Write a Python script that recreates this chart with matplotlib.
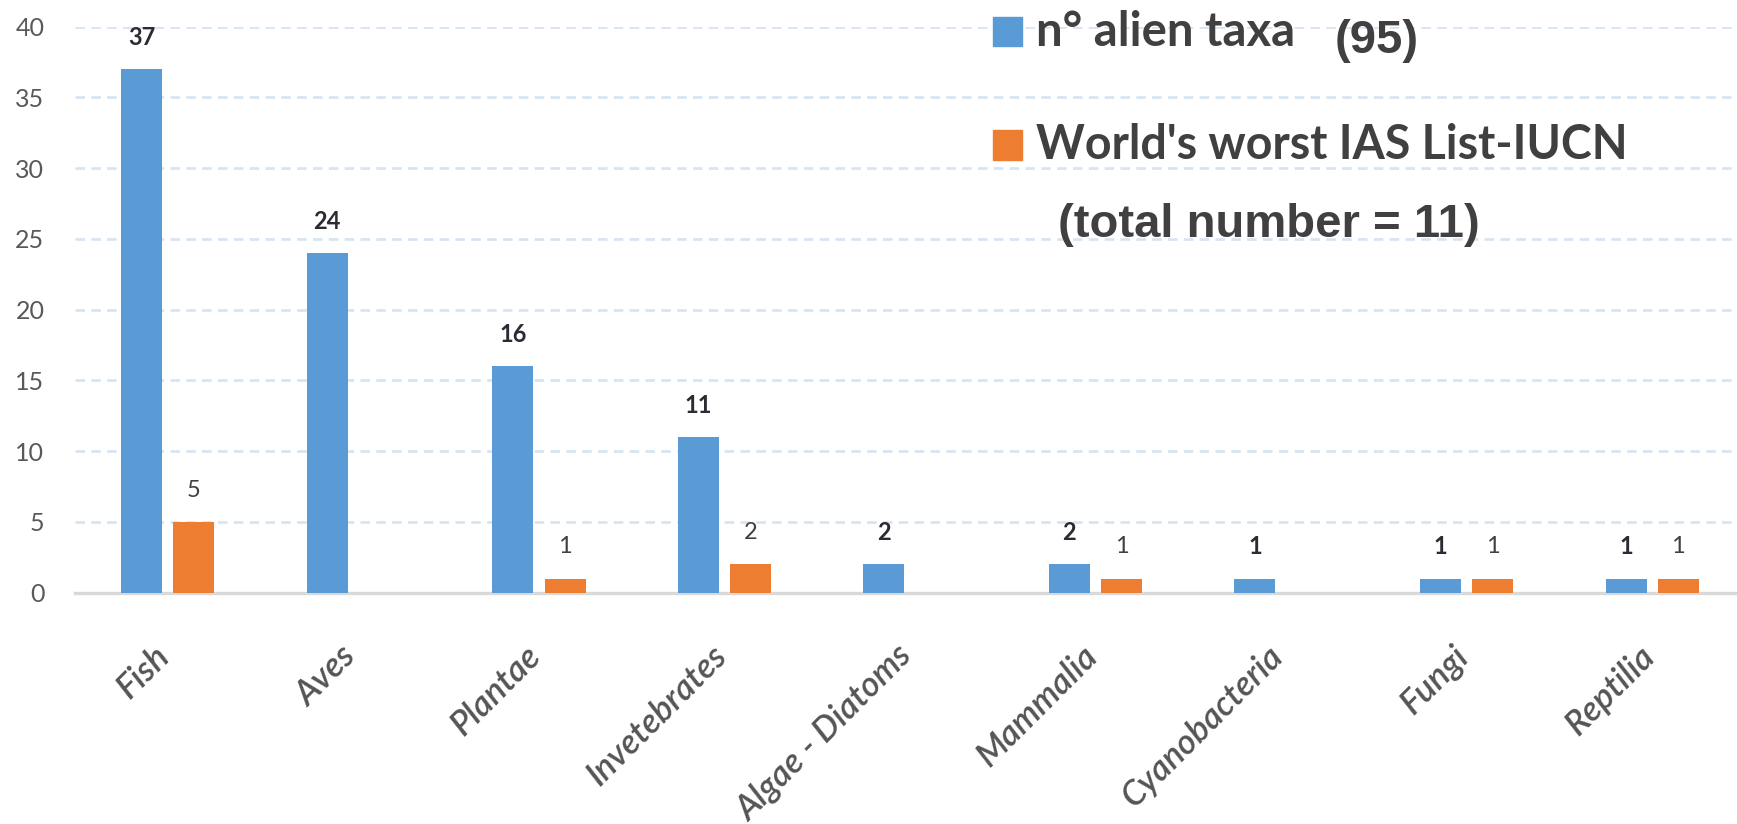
import matplotlib
matplotlib.use("Agg")
import matplotlib.pyplot as plt
from matplotlib.patches import Rectangle
from matplotlib.transforms import ScaledTranslation
import numpy as np

# taxa groups and counts
categories = ["Fish", "Aves", "Plantae", "Invetebrates", "Algae - Diatoms",
              "Mammalia", "Cyanobacteria", "Fungi", "Reptilia"]
alien_taxa = [37, 24, 16, 11, 2, 2, 1, 1, 1]
worst_ias = [5, 0, 1, 2, 0, 1, 0, 1, 1]
y_ticks = [0, 5, 10, 15, 20, 25, 30, 35, 40]

BLUE = "#5B9BD5"
ORANGE = "#ED7D31"
TEXT = "#404040"

W, H, DPI = 1737, 824, 100
fig = plt.figure(figsize=(W / DPI, H / DPI), dpi=DPI)
fig.patch.set_facecolor("white")


def fx(px):
    return px / W


def fy(py):
    # pixel rows are counted from the top
    return 1 - py / H


ax = fig.add_axes([fx(75), fy(592.7), fx(1745 - 75), (592.7 - 26.7) / H])

x = np.arange(len(categories))
bw = 0.221
off = 0.141
ax.bar(x - off, alien_taxa, bw, color=BLUE, zorder=3)
ax.bar(x + off, worst_ias, bw, color=ORANGE, zorder=3)

for xi, v in zip(x, alien_taxa):
    ax.annotate(str(v), (xi - off, v), xytext=(0, 23), textcoords="offset points",
                ha="center", va="center", fontsize=17, fontweight="bold",
                family="Lato", color="#2b2b33")
for xi, v in zip(x, worst_ias):
    if v > 0:
        ax.annotate(str(v), (xi + off, v), xytext=(0, 23), textcoords="offset points",
                    ha="center", va="center", fontsize=17,
                    family="Lato", color=TEXT)

ax.set_xlim(-0.5, len(categories) - 0.5)
ax.set_ylim(0, 40)
ax.set_yticks(y_ticks)
ax.set_yticklabels([str(t) for t in y_ticks], family="Lato", fontsize=18, color="#595959")
ax.tick_params(axis="y", length=0, pad=22)
ax.yaxis.grid(True, color="#D5E3F2", linewidth=1.9, linestyle=(0, (3.6, 2.4)))
ax.set_axisbelow(True)

ax.set_xticks(x)
ax.set_xticklabels(categories, rotation=45, ha="right", va="center",
                   rotation_mode="anchor", family="Lato", style="italic",
                   fontweight="semibold", fontsize=25, color="#555555")
ax.tick_params(axis="x", length=0, pad=42)
shift = ScaledTranslation(-3 / DPI, 0, fig.dpi_scale_trans)
for lbl in ax.get_xticklabels():
    lbl.set_transform(lbl.get_transform() + shift)

for side in ["top", "right", "left"]:
    ax.spines[side].set_visible(False)
ax.spines["bottom"].set_color("#D9D9D9")
ax.spines["bottom"].set_linewidth(2.4)

# legend drawn by hand
fig.add_artist(Rectangle((fx(993), fy(46)), fx(29), 29 / H, color=BLUE, transform=fig.transFigure))
fig.add_artist(Rectangle((fx(993), fy(160)), fx(29), 30 / H, color=ORANGE, transform=fig.transFigure))
fig.text(fx(1036), fy(46), "n° alien taxa", family="Lato", fontweight="bold",
         fontsize=34, color=TEXT, va="baseline", ha="left")
fig.text(fx(1335), fy(53), "(95)", family="Liberation Sans", fontweight="bold",
         fontsize=34, color=TEXT, va="baseline", ha="left")
fig.text(fx(1036), fy(159), "World's worst IAS List-IUCN", family="Lato", fontweight="bold",
         fontsize=33.5, color=TEXT, va="baseline", ha="left")
fig.text(fx(1058), fy(237), "(total number = 11)", family="Liberation Sans", fontweight="bold",
         fontsize=34, color=TEXT, va="baseline", ha="left")

fig.savefig("out.png", dpi=DPI, facecolor="white")
